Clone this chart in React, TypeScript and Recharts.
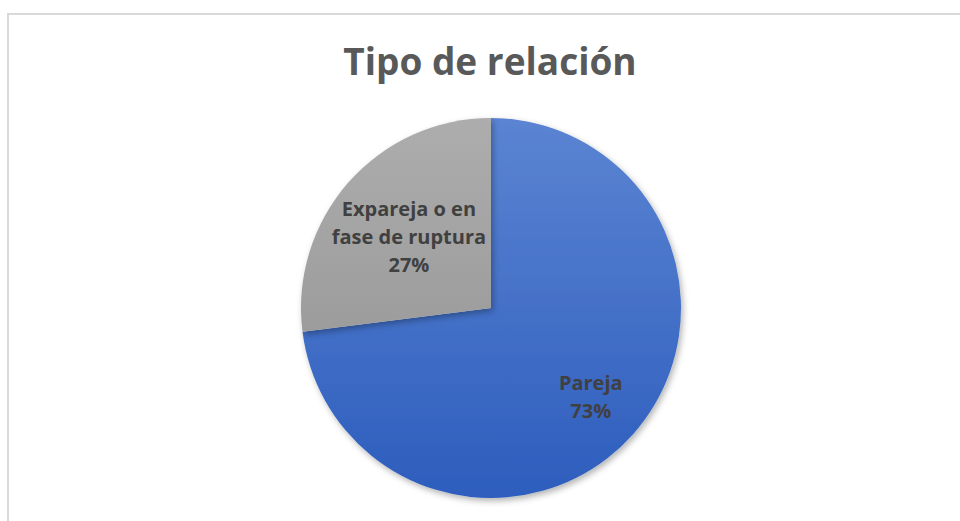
import React from 'react';
import { PieChart, Pie, Cell } from 'recharts';

const categories = ['Pareja', 'Expareja o en fase de ruptura'];
const percentages = [73, 27];
const labelLines = [['Pareja', '73%'], ['Expareja o en', 'fase de ruptura', '27%']];
const labelDistance = [0.7, 0.576];
const fills = ['url(#blueGrad)', 'url(#greyGrad)'];

const chartData = categories.map((name, i) => ({ name, value: percentages[i] }));

const RADIAN = Math.PI / 180;

const renderLabel = (props: any) => {
    const { cx, cy, midAngle, outerRadius, index } = props;
    const r = outerRadius * labelDistance[index];
    const x = cx + r * Math.cos(-midAngle * RADIAN);
    const y = cy + r * Math.sin(-midAngle * RADIAN);
    const lines = labelLines[index];
    const lh = 28;
    const top = y - ((lines.length - 1) * lh) / 2;
    return (
        <text
            x={x}
            y={top}
            textAnchor="middle"
            dominantBaseline="central"
            fill="#404040"
            fontSize={20}
            fontWeight="bold"
            fontFamily="'Open Sans', sans-serif"
        >
            {lines.map((l, i) => (
                <tspan key={i} x={x} y={top + i * lh}>
                    {l}
                </tspan>
            ))}
        </text>
    );
};

export default function App() {
    return (
        <div style={{ position: 'fixed', left: 0, top: 0, width: 960, height: 521, background: '#fff', overflow: 'hidden' }}>
            <div
                style={{
                    position: 'absolute',
                    left: 7,
                    top: 13,
                    width: 1000,
                    height: 600,
                    borderLeft: '2px solid #d9d9d9',
                    borderTop: '2px solid #d9d9d9',
                }}
            />
            <svg width={960} height={100} style={{ position: 'absolute', left: 0, top: 0 }}>
                <text
                    x={490}
                    y={75}
                    textAnchor="middle"
                    fill="#595959"
                    fontSize={37}
                    fontWeight="bold"
                    fontFamily="'Open Sans', sans-serif"
                >
                    Tipo de relación
                </text>
            </svg>
            <div style={{ position: 'absolute', left: 0, top: 0 }}>
                <PieChart width={960} height={521} margin={{ top: 0, right: 0, bottom: 0, left: 0 }}>
                    <defs>
                        <linearGradient id="blueGrad" gradientUnits="userSpaceOnUse" x1="0" y1="118" x2="0" y2="498">
                            <stop offset="0%" stopColor="#5b84d2" />
                            <stop offset="100%" stopColor="#2d5dbd" />
                        </linearGradient>
                        <linearGradient id="greyGrad" gradientUnits="userSpaceOnUse" x1="0" y1="118" x2="0" y2="498">
                            <stop offset="0%" stopColor="#adadad" />
                            <stop offset="100%" stopColor="#8f8f8f" />
                        </linearGradient>
                        <filter id="pieShadow" x="-10%" y="-10%" width="120%" height="120%">
                            <feDropShadow dx="2" dy="3" stdDeviation="3" floodColor="#000" floodOpacity="0.3" />
                        </filter>
                    </defs>
                    <Pie
                        data={chartData}
                        dataKey="value"
                        nameKey="name"
                        cx={491}
                        cy={308}
                        outerRadius={190}
                        startAngle={90}
                        endAngle={-270}
                        stroke="none"
                        label={renderLabel}
                        labelLine={false}
                        isAnimationActive={false}
                        style={{ filter: 'url(#pieShadow)' }}
                    >
                        {chartData.map((d, i) => (
                            <Cell key={d.name} fill={fills[i]} />
                        ))}
                    </Pie>
                </PieChart>
            </div>
        </div>
    );
}
